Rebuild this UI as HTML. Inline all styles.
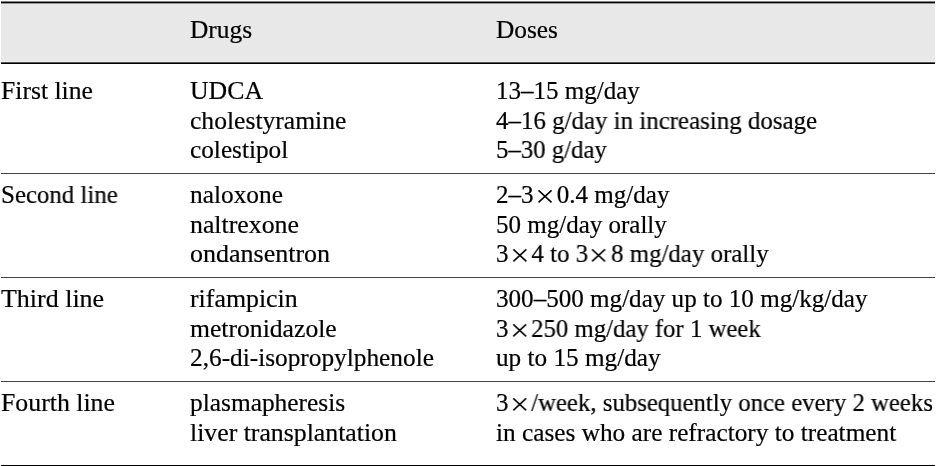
<!DOCTYPE html>
<html><head><meta charset="utf-8">
<style>
html,body{margin:0;padding:0;background:#fff;}
body{width:936px;height:466px;position:relative;overflow:hidden;font-family:"Liberation Serif",serif;font-size:25px;color:#000;}
.r{position:absolute;left:1px;width:934px;}
.t{position:absolute;white-space:nowrap;line-height:1;will-change:transform;transform-origin:0 0;-webkit-text-stroke:0.2px #000;}
.x{vertical-align:baseline;display:inline-block;}
</style></head><body>
<div class="r" style="top:4px;height:57px;background:#e8e8e8;"></div>
<div class="r" style="top:1px;height:1px;background:#858585;"></div>
<div class="r" style="top:2px;height:1px;background:#000;"></div>
<div class="r" style="top:3px;height:1px;background:#9a9a9a;"></div>
<div class="r" style="top:61px;height:1px;background:#eeeeee;"></div>
<div class="r" style="top:62px;height:1px;background:#555;"></div>
<div class="r" style="top:63px;height:1px;background:#000;"></div>
<div class="r" style="top:173px;height:1px;background:#444;"></div>
<div class="r" style="top:277px;height:1px;background:#444;"></div>
<div class="r" style="top:381px;height:1px;background:#444;"></div>
<div class="r" style="top:465px;height:1px;background:#000;"></div>
<div class="t" style="left:189.7px;top:17px;transform:scaleX(1.0161);">Drugs</div>
<div class="t" style="left:496.4px;top:17px;transform:scaleX(1.0136);">Doses</div>
<div class="t" style="left:0.6px;top:78px;transform:scaleX(1.0254);">First line</div>
<div class="t" style="left:189.7px;top:78px;transform:scaleX(1.0310);">UDCA</div>
<div class="t" style="left:189.7px;top:108px;transform:scaleX(1.0238);">cholestyramine</div>
<div class="t" style="left:189.7px;top:137px;transform:scaleX(1.0110);">colestipol</div>
<div class="t" style="left:496.4px;top:78px;transform:scaleX(1.0005);">13–15 mg/day</div>
<div class="t" style="left:496.4px;top:108px;transform:scaleX(0.9968);">4–16 g/day in increasing dosage</div>
<div class="t" style="left:496.4px;top:137px;transform:scaleX(0.9915);">5–30 g/day</div>
<div class="t" style="left:0.6px;top:182px;transform:scaleX(0.9953);">Second line</div>
<div class="t" style="left:189.7px;top:182px;transform:scaleX(1.0136);">naloxone</div>
<div class="t" style="left:189.7px;top:212px;transform:scaleX(1.0325);">naltrexone</div>
<div class="t" style="left:189.7px;top:241px;transform:scaleX(1.0401);">ondansentron</div>
<div class="t" style="left:496.4px;top:182px;transform:scaleX(1.0026);">2–3<svg class="x" width="23" height="14" viewBox="0 0 23 14"><path d="M4.4 1.4L17.4 13.4M17.4 1.4L4.4 13.4" stroke="#000" stroke-width="1.55" fill="none"/></svg>0.4 mg/day</div>
<div class="t" style="left:496.4px;top:212px;transform:scaleX(0.9973);">50 mg/day orally</div>
<div class="t" style="left:496.4px;top:241px;transform:scaleX(0.9961);">3<svg class="x" width="23" height="14" viewBox="0 0 23 14"><path d="M4.4 1.4L17.4 13.4M17.4 1.4L4.4 13.4" stroke="#000" stroke-width="1.55" fill="none"/></svg>4 to 3<svg class="x" width="23" height="14" viewBox="0 0 23 14"><path d="M4.4 1.4L17.4 13.4M17.4 1.4L4.4 13.4" stroke="#000" stroke-width="1.55" fill="none"/></svg>8 mg/day orally</div>
<div class="t" style="left:0.6px;top:286px;transform:scaleX(1.0385);">Third line</div>
<div class="t" style="left:189.7px;top:286px;transform:scaleX(1.0344);">rifampicin</div>
<div class="t" style="left:189.7px;top:316px;transform:scaleX(1.0261);">metronidazole</div>
<div class="t" style="left:189.7px;top:345px;transform:scaleX(1.0123);">2,6-di-isopropylphenole</div>
<div class="t" style="left:496.4px;top:286px;transform:scaleX(1.0036);">300–500 mg/day up to 10 mg/kg/day</div>
<div class="t" style="left:496.4px;top:316px;transform:scaleX(0.9898);">3<svg class="x" width="23" height="14" viewBox="0 0 23 14"><path d="M4.4 1.4L17.4 13.4M17.4 1.4L4.4 13.4" stroke="#000" stroke-width="1.55" fill="none"/></svg>250 mg/day for 1 week</div>
<div class="t" style="left:496.4px;top:345px;transform:scaleX(1.0083);">up to 15 mg/day</div>
<div class="t" style="left:0.6px;top:390px;transform:scaleX(1.0315);">Fourth line</div>
<div class="t" style="left:189.7px;top:390px;transform:scaleX(1.0153);">plasmapheresis</div>
<div class="t" style="left:189.7px;top:420px;transform:scaleX(1.0309);">liver transplantation</div>
<div class="t" style="left:496.4px;top:390px;transform:scaleX(0.9909);">3<svg class="x" width="23" height="14" viewBox="0 0 23 14"><path d="M4.4 1.4L17.4 13.4M17.4 1.4L4.4 13.4" stroke="#000" stroke-width="1.55" fill="none"/></svg>/week, subsequently once every 2 weeks</div>
<div class="t" style="left:496.4px;top:420px;transform:scaleX(1.0115);">in cases who are refractory to treatment</div>
</body></html>
